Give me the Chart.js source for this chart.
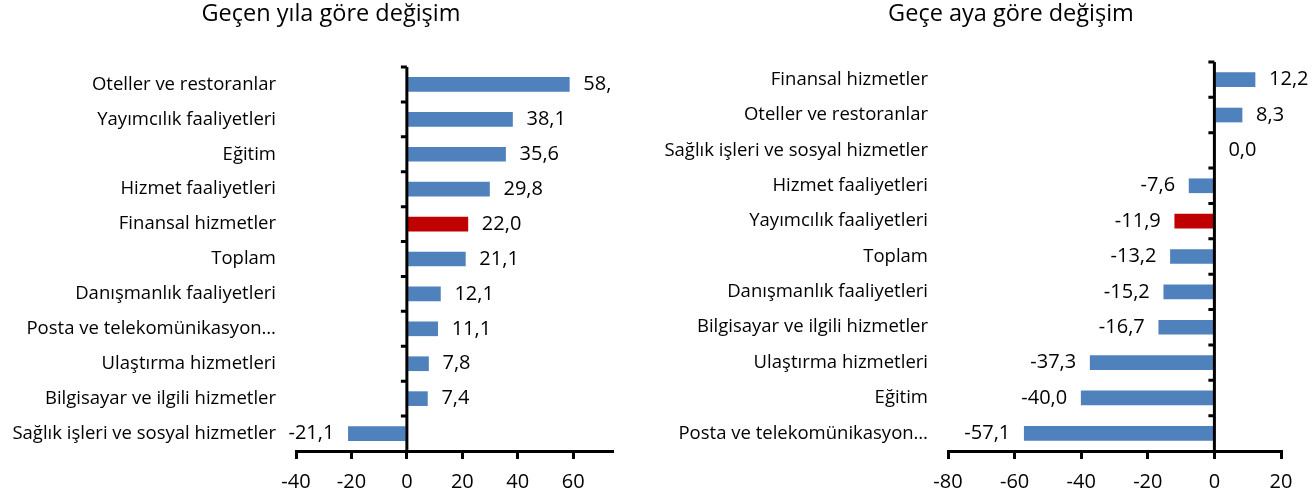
<!DOCTYPE html>
<html>
<head>
<meta charset="utf-8">
<script src="https://cdn.jsdelivr.net/npm/chart.js@4/dist/chart.umd.min.js"></script>
<style>
  html, body { margin: 0; padding: 0; background: #fff; }
  .wrap { position: absolute; top: 0; width: 658px; height: 499px; }
  #left { left: 0; }
  #right { left: 658px; }
  .baslik { position: absolute; top: -2px; font-family: 'Open Sans', sans-serif; font-size: 23.5px;
            line-height: 28px; color: #000; text-align: center; white-space: nowrap; }
  #baslikYil { left: 0; width: 662px; }
  #baslikAy { left: 706px; width: 610px; }
</style>
</head>
<body>
<div class="wrap" id="left"><canvas id="chartYil"></canvas></div>
<div class="wrap" id="right"><canvas id="chartAy"></canvas></div>
<div class="baslik" id="baslikYil">Geçen yıla göre değişim</div>
<div class="baslik" id="baslikAy">Geçe aya göre değişim</div>
<script>
// Geçen yıla göre değişim
var yilKategoriler = ['Oteller ve restoranlar', 'Yayımcılık faaliyetleri', 'Eğitim', 'Hizmet faaliyetleri',
    'Finansal hizmetler', 'Toplam', 'Danışmanlık faaliyetleri', 'Posta ve telekomünikasyon…',
    'Ulaştırma hizmetleri', 'Bilgisayar ve ilgili hizmetler', 'Sağlık işleri ve sosyal hizmetler'];
var yilDegerler = [58.6, 38.1, 35.6, 29.8, 22.0, 21.1, 12.1, 11.1, 7.8, 7.4, -21.1];
var yilVurgu = 'Finansal hizmetler';

// Geçe aya göre değişim
var ayKategoriler = ['Finansal hizmetler', 'Oteller ve restoranlar', 'Sağlık işleri ve sosyal hizmetler',
    'Hizmet faaliyetleri', 'Yayımcılık faaliyetleri', 'Toplam', 'Danışmanlık faaliyetleri',
    'Bilgisayar ve ilgili hizmetler', 'Ulaştırma hizmetleri', 'Eğitim', 'Posta ve telekomünikasyon…'];
var ayDegerler = [12.2, 8.3, 0.0, -7.6, -11.9, -13.2, -15.2, -16.7, -37.3, -40.0, -57.1];
var ayVurgu = 'Yayımcılık faaliyetleri';

var xTickYil = [-40, -20, 0, 20, 40, 60];
var xTickAy = [-80, -60, -40, -20, 0, 20];

var FONT = 'Open Sans';
var MAVI = '#4F81BD';
var KIRMIZI = '#C00000';

// etiketler (Excel data labels gibi)
var barLabels = {
    id: 'barLabels',
    afterDatasetsDraw: function(chart, args, opts) {
        var ctx = chart.ctx;
        var area = chart.chartArea;
        var data = chart.data.datasets[0].data;
        ctx.save();
        if (opts.kirp) {
            ctx.beginPath();
            ctx.rect(0, 0, area.right, chart.height);
            ctx.clip();
        }
        ctx.font = '20px "' + FONT + '"';
        ctx.fillStyle = '#000';
        ctx.textBaseline = 'middle';
        chart.getDatasetMeta(0).data.forEach(function(bar, i) {
            var v = data[i];
            var txt = v.toFixed(1).replace('.', ',');
            if (v >= 0) {
                ctx.textAlign = 'left';
                ctx.fillText(txt, bar.x + 14, bar.y);
            } else {
                ctx.textAlign = 'right';
                ctx.fillText(txt, bar.x - 14, bar.y);
            }
        });
        ctx.restore();
    }
};

// sıfır ekseni + kategori çentikleri
var zeroAxis = {
    id: 'zeroAxis',
    afterDatasetsDraw: function(chart) {
        var ctx = chart.ctx;
        var a = chart.chartArea;
        var x = chart.scales.x, y = chart.scales.y;
        var x0 = x.getPixelForValue(0);
        var n = chart.data.labels.length;
        var step = (a.bottom - a.top) / n;
        ctx.save();
        ctx.strokeStyle = '#000';
        ctx.lineWidth = 3;
        ctx.beginPath();
        ctx.moveTo(x0, a.top);
        ctx.lineTo(x0, a.bottom);
        for (var i = 0; i < n; i++) {
            var yy = y.getPixelForValue(i) - step / 2;
            ctx.moveTo(x0 - 6, yy);
            ctx.lineTo(x0, yy);
        }
        ctx.stroke();
        ctx.restore();
    }
};

function yap(id, kategoriler, degerler, vurgu, xTicks, xMin, xMax, pad, yGenislik, kirp) {
    var ctx = document.getElementById(id);
    return new Chart(ctx, {
        type: 'bar',
        data: {
            labels: kategoriler,
            datasets: [{
                data: degerler,
                backgroundColor: kategoriler.map(function(k) { return k === vurgu ? KIRMIZI : MAVI; }),
                barThickness: 14
            }]
        },
        options: {
            indexAxis: 'y',
            responsive: true,
            maintainAspectRatio: false,
            animation: false,
            layout: { padding: pad },
            plugins: {
                legend: { display: false },
                tooltip: { enabled: false },
                barLabels: { kirp: kirp }
            },
            scales: {
                x: {
                    min: xMin,
                    max: xMax,
                    afterBuildTicks: function(s) {
                        s.ticks = xTicks.map(function(v) { return { value: v }; });
                    },
                    afterFit: function(s) { s.height = 48; },
                    border: { display: true, color: '#000', width: 3 },
                    grid: { drawOnChartArea: false, drawTicks: true, tickLength: 8, color: '#000', lineWidth: 3 },
                    ticks: { color: '#000', font: { family: FONT, size: 20 }, padding: 11, maxRotation: 0 }
                },
                y: {
                    afterFit: function(s) { s.width = yGenislik; },
                    border: { display: false },
                    grid: { display: false, drawTicks: false },
                    ticks: { color: '#000', font: { family: FONT, size: 18.5 }, padding: 20, autoSkip: false }
                }
            }
        },
        plugins: [zeroAxis, barLabels]
    });
}

yap('chartYil', yilKategoriler, yilDegerler, yilVurgu, xTickYil, -40, 74,
    { left: 0, right: 46, top: 67, bottom: 0 }, 296, true);
yap('chartAy', ayKategoriler, ayDegerler, ayVurgu, xTickAy, -80, 20,
    { left: 0, right: 35, top: 62, bottom: 0 }, 290, false);
</script>
</body>
</html>
